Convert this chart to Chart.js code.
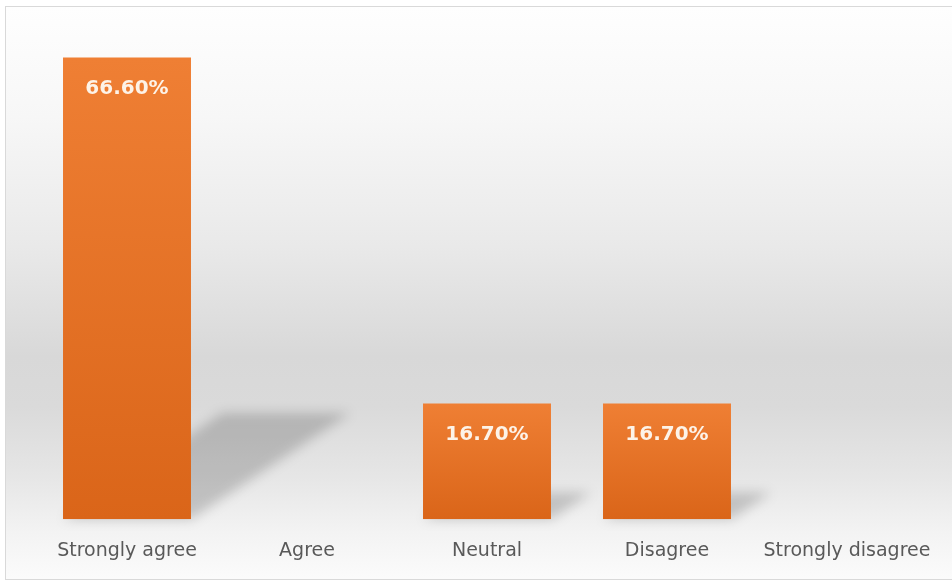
<!DOCTYPE html>
<html>
<head>
<meta charset="utf-8">
<script src="https://cdn.jsdelivr.net/npm/chart.js@4"></script>
<style>
    html, body {
        margin: 0;
        padding: 0;
        background: #ffffff;
        overflow: hidden;
    }
    #frame {
        position: absolute;
        left: 5px;
        top: 6px;
        width: 960px;
        height: 572px;
        border: 1px solid #d9d9d9;
        background: linear-gradient(to bottom,
            #fefefe 0px, #f7f7f7 110px, #e9e9e9 240px, #d8d8d8 350px,
            #dadada 400px, #e6e6e6 470px, #f3f3f3 525px, #fbfbfb 572px);
    }
    #wrap {
        position: absolute;
        left: 0;
        top: 0;
        width: 952px;
        height: 582px;
    }
</style>
</head>
<body>
<div id="frame"></div>
<div id="wrap"><canvas id="survey-chart" width="952" height="582"></canvas></div>
<script>
// Survey responses (percent of respondents)
const categories = ["Strongly agree", "Agree", "Neutral", "Disagree", "Strongly disagree"];
const percentages = [66.6, 0, 16.7, 16.7, 0];

// Slanted drop shadow behind each bar, cast up and to the right
const barShadow = {
    id: "barShadow",
    beforeDatasetsDraw(chart) {
        const ctx = chart.ctx;
        const meta = chart.getDatasetMeta(0);
        ctx.save();
        ctx.filter = "blur(6px)";
        meta.data.forEach((bar) => {
            const h = bar.base - bar.y;
            if (h <= 0) return;
            const left = bar.x - bar.width / 2;
            const right = bar.x + bar.width / 2;
            const dx = h * 0.345;
            const dy = h * 0.23;
            ctx.fillStyle = "rgba(0, 0, 0, 0.18)";
            ctx.beginPath();
            ctx.moveTo(left, bar.base);
            ctx.lineTo(right, bar.base);
            ctx.lineTo(right + dx, bar.base - dy);
            ctx.lineTo(left + dx, bar.base - dy);
            ctx.closePath();
            ctx.fill();
        });
        ctx.restore();
    }
};

// Value labels inside the top of each bar
const valueLabels = {
    id: "valueLabels",
    afterDatasetsDraw(chart) {
        const ctx = chart.ctx;
        const meta = chart.getDatasetMeta(0);
        ctx.save();
        ctx.font = "bold 20px 'DejaVu Sans'";
        ctx.fillStyle = "#fdf3e8";
        ctx.textAlign = "center";
        ctx.textBaseline = "middle";
        meta.data.forEach((bar, i) => {
            if (percentages[i] <= 0) return;
            ctx.fillText(percentages[i].toFixed(2) + "%", bar.x, bar.y + 31);
        });
        ctx.restore();
    }
};

const ctx = document.getElementById("survey-chart").getContext("2d");

new Chart(ctx, {
    type: "bar",
    data: {
        labels: categories,
        datasets: [{
            data: percentages,
            backgroundColor: (context) => {
                const chart = context.chart;
                const area = chart.chartArea;
                if (!area) return "#e87428";
                const yScale = chart.scales.y;
                const top = yScale.getPixelForValue(context.raw);
                const bottom = yScale.getPixelForValue(0);
                if (!(bottom > top)) return "#e87428";
                const g = chart.ctx.createLinearGradient(0, top, 0, bottom);
                g.addColorStop(0, "#ef7f34");
                g.addColorStop(1, "#da6519");
                return g;
            },
            borderWidth: 0,
            categoryPercentage: 1.0,
            barPercentage: 0.711
        }]
    },
    options: {
        responsive: false,
        animation: false,
        layout: {
            padding: { left: 37, right: 15, top: 34, bottom: 0 }
        },
        scales: {
            x: {
                grid: { display: false, drawTicks: false },
                border: { display: false },
                ticks: {
                    color: "#595959",
                    padding: 20,
                    font: { family: "'DejaVu Sans'", size: 19 }
                }
            },
            y: {
                display: false,
                min: 0,
                max: 70
            }
        },
        plugins: {
            legend: { display: false },
            tooltip: { enabled: false }
        }
    },
    plugins: [barShadow, valueLabels]
});
</script>
</body>
</html>
